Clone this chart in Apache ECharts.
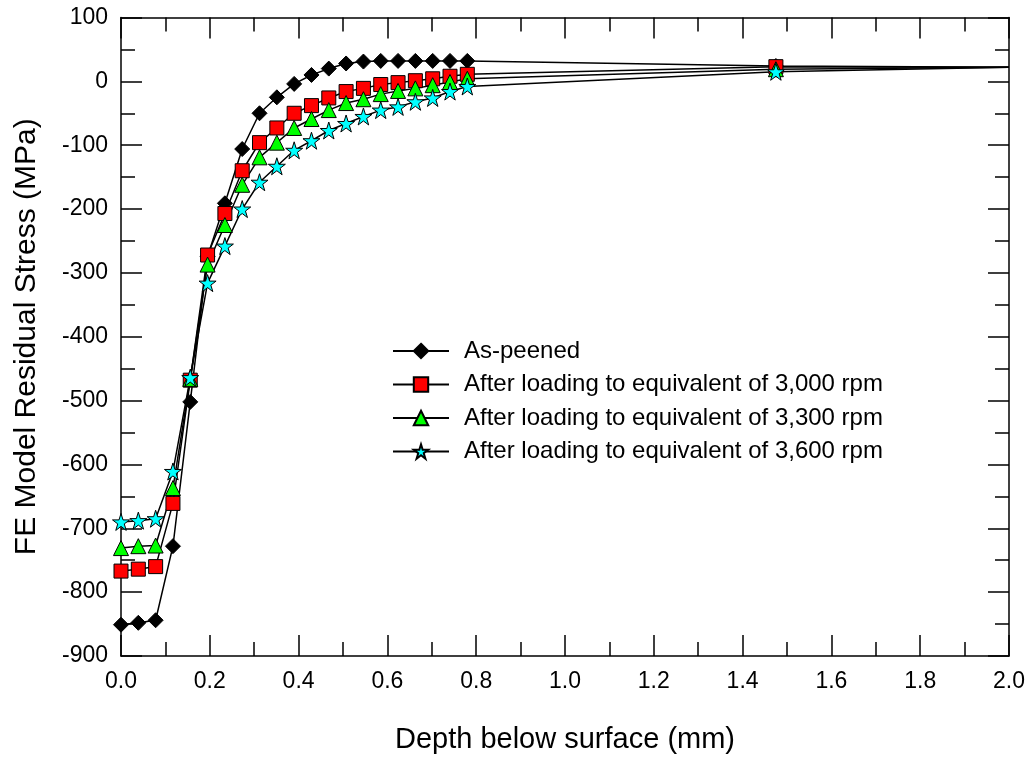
<!DOCTYPE html>
<html>
<head>
<meta charset="utf-8">
<script src="https://cdn.jsdelivr.net/npm/echarts@6/dist/echarts.min.js"></script>
<style>
  html, body { margin: 0; padding: 0; background: #fff; }
  #chart { width: 1031px; height: 761px; }
</style>
</head>
<body>
<div id="chart"></div>
<script>
// Depth below surface (mm)
const depth = [0, 0.039, 0.078, 0.117, 0.156, 0.195, 0.234, 0.273, 0.312, 0.351, 0.39,
  0.429, 0.468, 0.507, 0.546, 0.585, 0.624, 0.663, 0.702, 0.741, 0.78, 1.475, 2.0];

// Residual stress (MPa) for each loading state
const asPeened = [-851, -848, -844, -728, -502, -274, -191, -106, -50, -25, -4,
  10, 20, 28, 31, 32, 32, 32, 32, 32, 32, 24, 22];
const rpm3000 = [-767, -764, -760, -661, -468, -272, -207, -140, -96, -73, -50,
  -38, -26, -16, -11, -5, -2, 1, 4, 8, 11, 23, 22];
const rpm3300 = [-731, -728, -727, -637, -466, -287, -225, -162, -119, -96, -73,
  -59, -45, -34, -28, -20, -15, -11, -6, -1, 4, 19, 22];
const rpm3600 = [-690, -688, -685, -611, -464, -316, -258, -200, -158, -133, -108,
  -93, -77, -66, -55, -45, -40, -32, -26, -16, -8, 15, 22];

const seriesNames = [
  'As-peened',
  'After loading to equivalent of 3,000 rpm',
  'After loading to equivalent of 3,300 rpm',
  'After loading to equivalent of 3,600 rpm'
];

const xTicks = { min: 0, max: 2, interval: 0.2 };
const yTicks = { min: -900, max: 100, interval: 100 };

const FONT = 'Liberation Sans, Arial, sans-serif';
const STAR = 'path://M50,0 L61.2,34.5 L97.6,34.5 L68.2,55.9 L79.4,90.5 L50,69.1 L20.6,90.5 L31.8,55.9 L2.4,34.5 L38.8,34.5 Z';

function pairs(ys) {
  // last point sits on the right frame and carries no marker
  return ys.map((y, i) => {
    const p = { value: [depth[i], y] };
    if (i === ys.length - 1) p.symbol = 'none';
    return p;
  });
}

const markerStyles = [
  { symbol: 'diamond', size: 15, color: '#000000' },
  { symbol: 'rect', size: 14, color: '#ff0000' },
  { symbol: 'triangle', size: 15, color: '#00ff00' },
  { symbol: STAR, size: 17, color: '#00ffff' }
];
const seriesData = [asPeened, rpm3000, rpm3300, rpm3600];

const axisLine = { show: true, onZero: false, lineStyle: { color: '#000', width: 1.5 } };
const tickStyle = { inside: true, length: 21, lineStyle: { color: '#000', width: 1.5 } };
const minorStyle = { show: true, splitNumber: 2, length: 14, lineStyle: { color: '#000', width: 1.5 } };

const chart = echarts.init(document.getElementById('chart'), null, { renderer: 'canvas' });
chart.setOption({
  backgroundColor: '#fff',
  animation: false,
  textStyle: { fontFamily: FONT },
  grid: { left: 121, right: 22, top: 17.5, bottom: 105, containLabel: false },
  legend: {
    orient: 'vertical',
    left: 392,
    top: 339,
    padding: 0,
    itemWidth: 56,
    itemHeight: 18,
    itemGap: 9.5,
    textStyle: { fontFamily: FONT, fontSize: 24, color: '#000', padding: [0, 0, 0, 10] },
    data: seriesNames
  },
  xAxis: [
    {
      type: 'value', position: 'bottom',
      min: xTicks.min, max: xTicks.max, interval: xTicks.interval,
      name: 'Depth below surface (mm)', nameLocation: 'middle', nameGap: 69,
      nameTextStyle: { fontFamily: FONT, fontSize: 29, color: '#000' },
      axisLine, axisTick: tickStyle, minorTick: minorStyle,
      splitLine: { show: false },
      axisLabel: { color: '#000', fontSize: 23, fontFamily: FONT, margin: 14,
        formatter: v => v.toFixed(1) }
    },
    {
      type: 'value', position: 'top',
      min: xTicks.min, max: xTicks.max, interval: xTicks.interval,
      axisLine, axisTick: tickStyle, minorTick: minorStyle,
      splitLine: { show: false }, axisLabel: { show: false }
    }
  ],
  yAxis: [
    {
      type: 'value', position: 'left',
      min: yTicks.min, max: yTicks.max, interval: yTicks.interval,
      name: 'FE Model Residual Stress (MPa)', nameLocation: 'middle', nameGap: 79,
      nameTextStyle: { fontFamily: FONT, fontSize: 30, color: '#000' },
      axisLine, axisTick: tickStyle, minorTick: minorStyle,
      splitLine: { show: false },
      axisLabel: { color: '#000', fontSize: 23, fontFamily: FONT, margin: 13 }
    },
    {
      type: 'value', position: 'right',
      min: yTicks.min, max: yTicks.max, interval: yTicks.interval,
      axisLine, axisTick: tickStyle, minorTick: minorStyle,
      splitLine: { show: false }, axisLabel: { show: false }
    }
  ],
  series: seriesData.map((ys, k) => ({
    name: seriesNames[k],
    type: 'line',
    xAxisIndex: 0,
    yAxisIndex: 0,
    data: pairs(ys),
    symbol: markerStyles[k].symbol,
    symbolSize: markerStyles[k].size,
    showAllSymbol: true,
    lineStyle: { color: '#000', width: 1.5 },
    itemStyle: { color: markerStyles[k].color, borderColor: '#000', borderWidth: 1 },
    emphasis: { disabled: true }
  }))
});
</script>
</body>
</html>
